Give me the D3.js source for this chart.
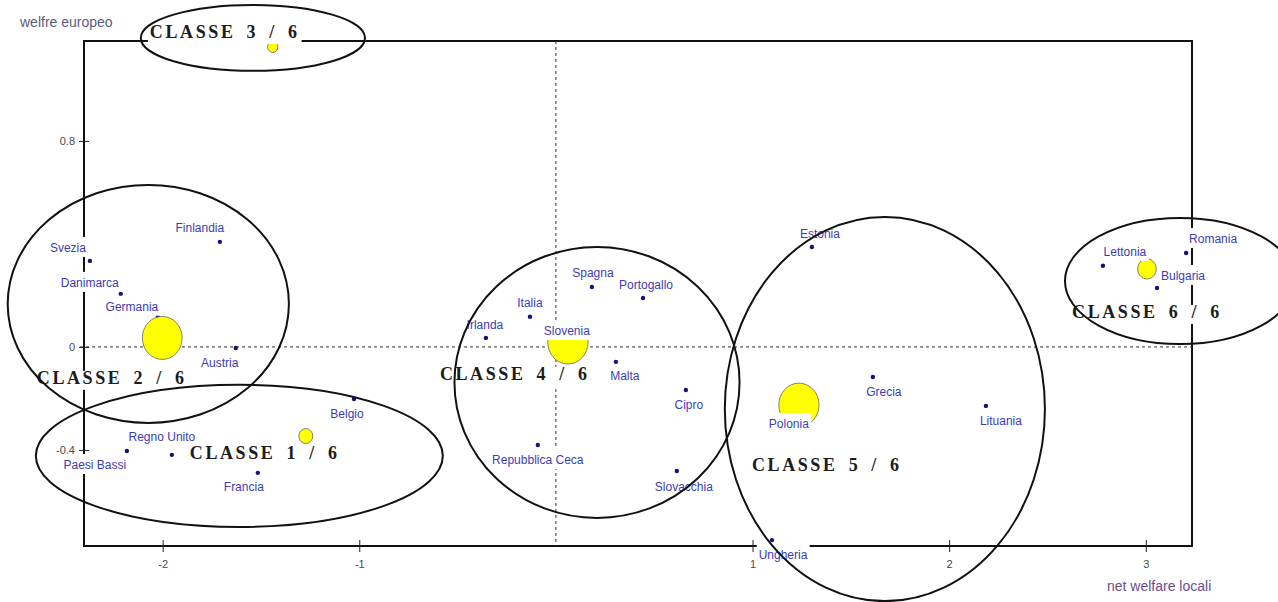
<!DOCTYPE html>
<html>
<head>
<meta charset="utf-8">
<script src="https://cdn.jsdelivr.net/npm/d3@7"></script>
<style>
  body { margin: 0; background: #fff; }
  svg { display: block; }
  .lbl { font-family: "Liberation Sans", Arial, sans-serif; font-size: 12px; fill: #3d3db2; }
  .tick text { font-family: "Liberation Sans", Arial, sans-serif; font-size: 11px; fill: #4a4a4a; }
  .classe { font-family: "Liberation Serif", "DejaVu Serif", serif; font-weight: bold; font-size: 18px;
            fill: #1c1c1c; letter-spacing: 2.6px; word-spacing: 4px; }
</style>
</head>
<body>
<svg id="chart"></svg>
<script>
// paesi e coordinate sul piano fattoriale
const paesi = ["Finlandia", "Svezia", "Danimarca", "Germania", "Austria", "Belgio", "Paesi Bassi",
  "Regno Unito", "Francia", "Spagna", "Portogallo", "Italia", "Irlanda", "Slovenia", "Malta",
  "Cipro", "Repubblica Ceca", "Slovacchia", "Estonia", "Grecia", "Polonia", "Lituania",
  "Ungheria", "Lettonia", "Romania", "Bulgaria"];
const welfareLocale = [-1.709, -2.370, -2.213, -2.024, -1.628, -1.027, -2.182, -1.953, -1.516,
  0.183, 0.443, -0.132, -0.356, 0.071, 0.305, 0.661, -0.092, 0.615, 1.302, 1.612, 1.256, 2.187,
  1.099, 2.782, 3.205, 3.057];
const welfareEuropeo = [0.408, 0.334, 0.206, 0.117, -0.004, -0.202, -0.404, -0.419, -0.489,
  0.233, 0.190, 0.117, 0.035, -0.012, -0.058, -0.167, -0.381, -0.482, 0.388, -0.117, -0.245,
  -0.229, -0.750, 0.315, 0.365, 0.229];

// classi: baricentro, peso, contorno (in unita' degli assi)
const classi = ["CLASSE 1 / 6", "CLASSE 2 / 6", "CLASSE 3 / 6", "CLASSE 4 / 6", "CLASSE 5 / 6", "CLASSE 6 / 6"];
const centroX = [-1.272, -2.002, -1.440, 0.061, 1.236, 3.006];
const centroY = [-0.346, 0.035, 1.165, 0.018, -0.225, 0.303];
const peso = [0.11, 0.90, 0.06, 0.92, 0.92, 0.20];
const ellisseX = [-1.610, -2.073, -1.541, 0.209, 1.673, 3.174];
const ellisseY = [-0.423, 0.167, 1.200, -0.138, -0.241, 0.256];
const ellisseRX = [1.035, 0.715, 0.570, 0.725, 0.814, 0.585];
const ellisseRY = [0.276, 0.462, 0.128, 0.526, 0.746, 0.245];
const etichettaX = [-1.862, -2.640, -2.065, -0.590, 0.997, 2.625];
const etichettaY = [-0.412, -0.120, 1.223, -0.105, -0.458, 0.136];

const xTicks = [-2, -1, 1, 2, 3];
const yTicks = [0.8, 0, -0.4];

// spostamento delle etichette rispetto al punto (px)
const labelOffset = {
  "Finlandia": [-20, -14], "Svezia": [-22, -13], "Danimarca": [-31, -11], "Germania": [-26, -10],
  "Austria": [-16, 15], "Belgio": [-7, 15], "Paesi Bassi": [-32, 14], "Regno Unito": [-10, -18],
  "Francia": [-14, 14], "Spagna": [1, -14], "Portogallo": [3, -13], "Italia": [0, -14],
  "Irlanda": [-1, -13], "Slovenia": [-3, -19], "Malta": [9, 14], "Cipro": [3, 15],
  "Repubblica Ceca": [0, 15], "Slovacchia": [7, 16], "Estonia": [8, -13], "Grecia": [11, 15],
  "Polonia": [-14, 14], "Lituania": [15, 15], "Ungheria": [11, 15], "Lettonia": [22, -14],
  "Romania": [27, -14], "Bulgaria": [26, -12]
};

const width = 1278, height = 602;
const margin = { top: 41, right: 86, bottom: 56, left: 84 };

const svg = d3.select("#chart").attr("width", width).attr("height", height);

const x = d3.scaleLinear().domain([-2.4, 3.235]).range([margin.left, width - margin.right]);
const y = d3.scaleLinear().domain([-0.773, 1.188]).range([height - margin.bottom, margin.top]);

const punti = paesi.map((p, i) => ({ nome: p, x: welfareLocale[i], y: welfareEuropeo[i] }));
const gruppi = classi.map((c, i) => ({
  nome: c, cx: centroX[i], cy: centroY[i], peso: peso[i],
  ex: ellisseX[i], ey: ellisseY[i], rx: ellisseRX[i], ry: ellisseRY[i],
  lx: etichettaX[i], ly: etichettaY[i]
}));

// cornice
svg.append("rect")
  .attr("x", x.range()[0]).attr("y", y.range()[1])
  .attr("width", x.range()[1] - x.range()[0])
  .attr("height", y.range()[0] - y.range()[1])
  .attr("fill", "none").attr("stroke", "#111").attr("stroke-width", 2);

// assi tratteggiati
svg.append("line")
  .attr("x1", x(0)).attr("x2", x(0)).attr("y1", y.range()[1]).attr("y2", y.range()[0])
  .attr("stroke", "#333").attr("stroke-dasharray", "3,3");
svg.append("line")
  .attr("x1", x.range()[0] - 4).attr("x2", x.range()[1]).attr("y1", y(0)).attr("y2", y(0))
  .attr("stroke", "#333").attr("stroke-dasharray", "3,3");

// assi
const xAxis = svg.append("g")
  .attr("transform", "translate(0," + y.range()[0] + ")")
  .call(d3.axisBottom(x).tickValues(xTicks).tickFormat(d => String(d)).tickSize(6).tickPadding(8));
xAxis.select(".domain").remove();
xAxis.selectAll(".tick line").attr("y1", -6).attr("y2", 6).attr("stroke", "#222");

const yAxis = svg.append("g")
  .attr("transform", "translate(" + x.range()[0] + ",0)")
  .call(d3.axisLeft(y).tickValues(yTicks).tickFormat(d => String(d)).tickSize(5).tickPadding(4));
yAxis.select(".domain").remove();
yAxis.selectAll(".tick line").attr("x1", -5).attr("x2", 5).attr("stroke", "#222");

// titoli degli assi
svg.append("text")
  .attr("x", 20).attr("y", 27)
  .style("font-family", "'Liberation Sans', Arial, sans-serif").style("font-size", "14px")
  .attr("fill", "#5c5c7c").text("welfre europeo");
svg.append("text")
  .attr("x", 1107).attr("y", 591)
  .style("font-family", "'Liberation Sans', Arial, sans-serif").style("font-size", "14px")
  .attr("fill", "#6a4d8c").text("net welfare locali");

// punti
svg.append("g")
  .selectAll("circle")
  .data(punti)
  .join("circle")
  .attr("cx", d => x(d.x)).attr("cy", d => y(d.y))
  .attr("r", 2.2).attr("fill", "#12127e");

// baricentri delle classi
const r = d3.scaleSqrt().domain([0, 1]).range([0, 21]);
svg.append("g")
  .selectAll("ellipse")
  .data(gruppi)
  .join("ellipse")
  .attr("cx", d => x(d.cx)).attr("cy", d => y(d.cy))
  .attr("rx", d => r(d.peso)).attr("ry", d => r(d.peso) * 1.08)
  .attr("fill", "#ffff00").attr("stroke", "#666").attr("stroke-width", 0.8);

// etichette con sfondo bianco (coprono cornice e baricentri)
function sfondo(sel, pad, top) {
  sel.each(function () {
    const b = this.getBBox();
    d3.select(this.parentNode).insert("rect", () => this)
      .attr("x", b.x - pad).attr("y", b.y - top)
      .attr("width", b.width + pad * 2).attr("height", b.height + top + 2)
      .attr("fill", "#fff");
  });
}

const lab = svg.append("g").selectAll("g").data(punti).join("g");
lab.append("text")
  .attr("class", "lbl")
  .attr("text-anchor", "middle")
  .attr("x", d => x(d.x) + labelOffset[d.nome][0])
  .attr("y", d => y(d.y) + labelOffset[d.nome][1] + 4)
  .text(d => d.nome)
  .call(sfondo, 2, 4);

const cl = svg.append("g").selectAll("g").data(gruppi).join("g");
cl.append("text")
  .attr("class", "classe")
  .attr("x", d => x(d.lx))
  .attr("y", d => y(d.ly) + 6)
  .text(d => d.nome)
  .call(sfondo, 2, -3);

// contorni delle classi
svg.append("g")
  .selectAll("ellipse")
  .data(gruppi)
  .join("ellipse")
  .attr("cx", d => x(d.ex)).attr("cy", d => y(d.ey))
  .attr("rx", d => x(d.ex + d.rx) - x(d.ex))
  .attr("ry", d => y(d.ey - d.ry) - y(d.ey))
  .attr("fill", "none").attr("stroke", "#111").attr("stroke-width", 2);
</script>
</body>
</html>
